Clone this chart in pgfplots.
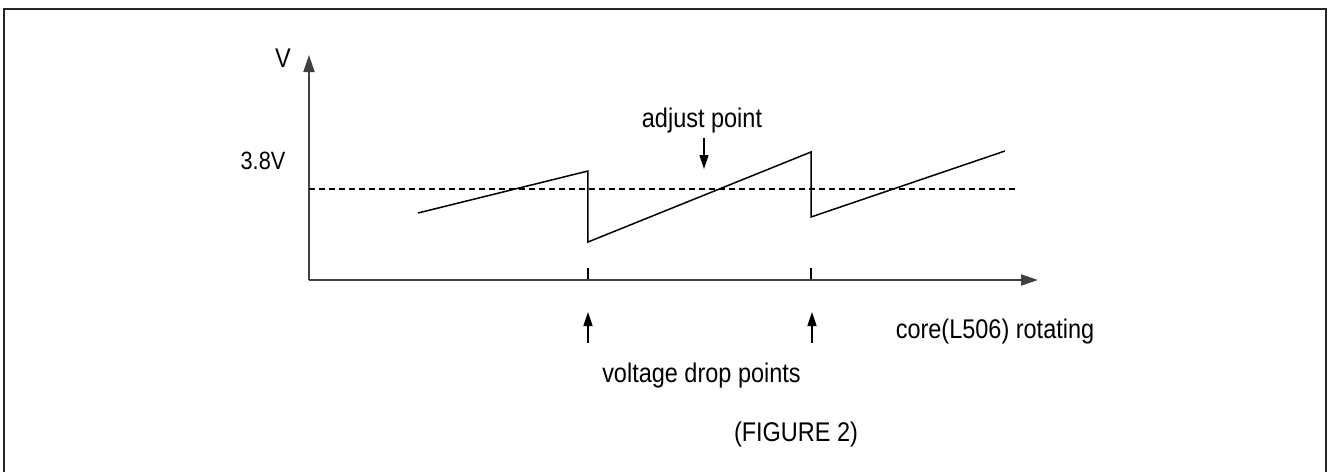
\documentclass[border=0pt]{standalone}
\usepackage{fontspec}
\setmainfont[FakeStretch=0.87]{Liberation Sans}
\usepackage{pgfplots}
\pgfplotsset{compat=1.18}
\usetikzlibrary{arrows.meta}
\begin{document}
\begin{tikzpicture}
\begin{axis}[
 width=729pt, height=225pt, scale only axis,
 xmin=0, xmax=729, ymin=0, ymax=225, enlargelimits=false,
 axis x line=bottom, axis y line=left,
 axis line style={draw=black!75, line width=2pt, -{Triangle[length=17pt,width=11pt]}},
 xtick={279,502}, xticklabels={}, ytick=\empty,
 tick align=inside, major tick length=12pt,
 tick style={black, line width=1.2pt},
 clip=false,
]
\addplot[black, line width=1.5pt] coordinates {(109,67) (279,109) (279,38) (502,128) (502,63) (696,129)};
\addplot[black, line width=1.2pt, dash pattern=on 6pt off 4pt] coordinates {(0,91) (709,91)};
\addplot[black, line width=1.5pt, -{Triangle[length=14pt,width=9pt]}] coordinates {(279,-63) (279,-32)};
\addplot[black, line width=1.5pt, -{Triangle[length=14pt,width=9pt]}] coordinates {(503,-63) (503,-32)};
\addplot[black, line width=1.5pt, -{Triangle[length=14pt,width=9pt]}] coordinates {(395,142) (395,111)};
\node[anchor=base, font=\fontsize{27}{32}\selectfont] at (axis cs:-26,213) {V};
\node[anchor=base, font=\fontsize{25}{30}\selectfont] at (axis cs:-46,111) {3.8V};
\node[anchor=base, font=\fontsize{27}{32}\selectfont] at (axis cs:393,153) {adjust point};
\node[anchor=base, font=\fontsize{27}{32}\selectfont] at (axis cs:392.5,-102) {voltage drop points};
\node[anchor=base, font=\fontsize{27}{32}\selectfont] at (axis cs:487,-161) {(FIGURE 2)};
\node[anchor=base, font=\fontsize{27}{32}\selectfont] at (axis cs:686,-58) {core(L506) rotating};
\draw[black!85, line width=2pt] (axis cs:-304.5,-192) -- (axis cs:-304.5,271) -- (axis cs:1017,271) -- (axis cs:1017,-192);
\coordinate (bl) at (axis cs:-309,-192);
\coordinate (tr) at (axis cs:1019,280);
\end{axis}
\pgfresetboundingbox
\path[use as bounding box] (bl) rectangle (tr);
\end{tikzpicture}
\end{document}
